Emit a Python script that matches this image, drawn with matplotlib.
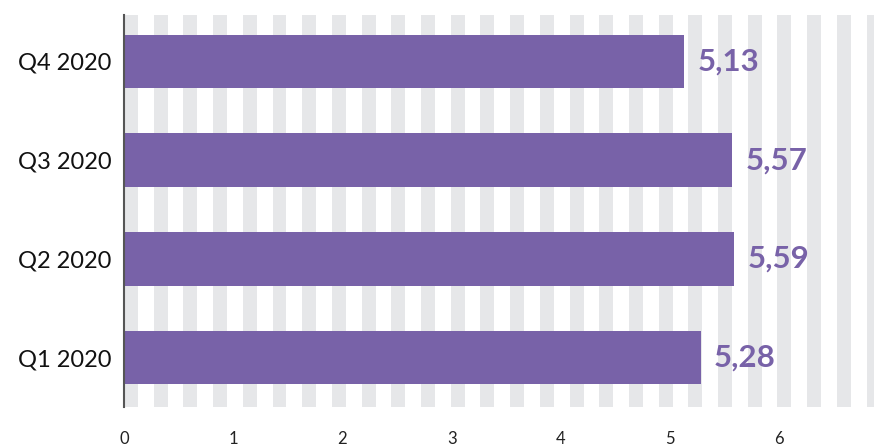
import matplotlib.pyplot as plt
import numpy as np

# data
quarters = ['Q1 2020', 'Q2 2020', 'Q3 2020', 'Q4 2020']
values = [5.28, 5.59, 5.57, 5.13]
value_labels = ['5,28', '5,59', '5,57', '5,13']
xticks = [0, 1, 2, 3, 4, 5, 6]

purple = '#7862A8'
stripe = '#E6E7E9'

plt.rcParams['font.family'] = ['Lato', 'DejaVu Sans']

fig = plt.figure(figsize=(8.74, 4.46), dpi=100)
ax = fig.add_axes([124 / 874, 1 - 407 / 446, 750 / 874, 392 / 446])

xmax = 6.868
# background stripes
period = 0.272
width = 0.128
s = 0.0
while s < xmax:
    ax.axvspan(s, s + width, color=stripe, lw=0, zorder=0)
    s += period

y = np.arange(len(quarters))
ax.barh(y, values, height=0.54, color=purple, zorder=2)

for yi, v, lab in zip(y, values, value_labels):
    ax.text(v + 0.12, yi, lab, va='center', ha='left', fontsize=22.5,
            fontweight='bold', color=purple, zorder=3)

ax.set_xlim(0, xmax)
ax.set_ylim(-0.5, 3.47)
ax.set_yticks(y)
ax.set_yticklabels(quarters, fontsize=17, color='#111111')
ax.set_xticks(xticks)
ax.set_xticklabels([str(t) for t in xticks], fontsize=12, color='#222222')
ax.tick_params(axis='both', length=0)
ax.tick_params(axis='y', pad=9)
ax.tick_params(axis='x', pad=17)

for side in ['top', 'right', 'bottom']:
    ax.spines[side].set_visible(False)
ax.spines['left'].set_color('#555555')
ax.spines['left'].set_linewidth(1.5)
ax.spines['left'].set_zorder(4)

fig.savefig('out.png', dpi=100)
